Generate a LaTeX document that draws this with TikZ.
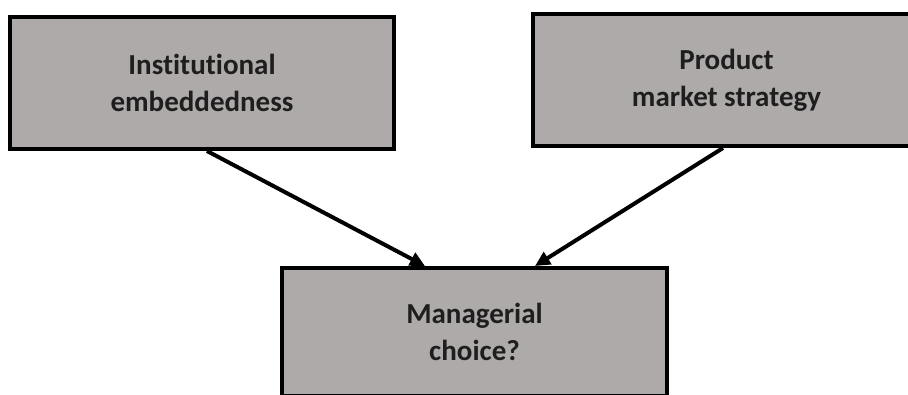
\documentclass[tikz,border=0pt]{standalone}
\usepackage{fontspec}
\setmainfont[Ligatures={NoCommon}]{Carlito}
\usetikzlibrary{arrows.meta,calc}
\definecolor{boxgrey}{RGB}{174,170,169}
\definecolor{txt}{RGB}{30,30,30}
\tikzset{
  box/.style={draw=black, line width=4pt, fill=boxgrey, rectangle, inner sep=0pt,
    align=center, text=txt, font=\fontsize{29}{37}\selectfont\bfseries},
  conn/.style={line width=4pt, -{Triangle[length=15pt,width=14pt]}}
}
\begin{document}
\begin{tikzpicture}[x=1pt,y=-1pt]
\useasboundingbox (0,0) rectangle (908,394);
\clip (0,0) rectangle (908,394);
\node[box, minimum width=384pt, minimum height=132pt] (L) at (202,83) {Institutional\\embeddedness};
\node[box, minimum width=387pt, minimum height=132pt] (R) at (726.5,80) {Product\\market strategy};
\node[box, minimum width=385pt, minimum height=128pt] (B) at (474.5,332) {Managerial\\choice?};
\coordinate (a1) at ($(L.south)+(5,0)$);
\coordinate (a2) at ($(B.north)+(-49.5,0)$);
\coordinate (b1) at ($(R.south)+(-3.5,0)$);
\coordinate (b2) at ($(B.north)+(60.5,0)$);
\draw[conn] (a1) -- (a2);
\draw[conn] (b1) -- (b2);
\end{tikzpicture}
\end{document}
